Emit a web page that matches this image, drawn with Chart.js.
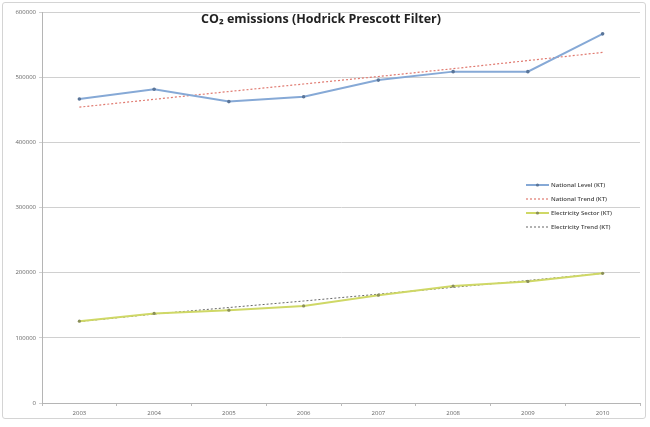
<!DOCTYPE html>
<html>
<head>
<meta charset="utf-8">
<script src="https://cdn.jsdelivr.net/npm/chart.js@4/dist/chart.umd.min.js"></script>
<style>
  html, body { margin: 0; padding: 0; background: #fff; }
  #wrap { position: relative; width: 650px; height: 427px; }
  #frame { position: absolute; left: 2px; top: 2px; width: 642px; height: 415px;
           border: 1px solid #d4d4d4; border-radius: 3px; pointer-events: none; }
</style>
</head>
<body>
<div id="wrap">
  <canvas id="co2Chart" width="650" height="427"></canvas>
  <div id="frame"></div>
</div>
<script>
// years on the x axis
const years = ["2003", "2004", "2005", "2006", "2007", "2008", "2009", "2010"];

// series (KT)
const nationalLevel = [466500, 481500, 462500, 470000, 495500, 508500, 508500, 566500];
const nationalTrend = [454000, 466000, 478000, 489500, 501000, 513000, 525500, 538000];
const electricitySector = [125500, 137500, 142500, 149000, 165500, 179500, 186500, 199000];
const electricityTrend = [125000, 136500, 146500, 156500, 167000, 177500, 188000, 199000];

const titleText = "CO\u2082 emissions (Hodrick Prescott Filter)";

// title drawn inside the plot area, like the original
const titlePlugin = {
  id: "insideTitle",
  afterDraw(chart) {
    const c = chart.ctx;
    c.save();
    c.font = "bold 12.5px 'Open Sans', sans-serif";
    c.fillStyle = "#222";
    c.textAlign = "center";
    c.textBaseline = "middle";
    c.fillText(titleText, 321, 19);
    c.restore();
  }
};

// small legend box inside the plot, right side
const legendPlugin = {
  id: "insideLegend",
  afterDraw(chart) {
    const c = chart.ctx;
    const x0 = 526, y0 = 185, rowH = 14;
    c.save();
    c.font = "600 6px 'Open Sans', sans-serif";
    c.textBaseline = "middle";
    chart.data.datasets.forEach((ds, i) => {
      const y = y0 + i * rowH;
      c.strokeStyle = ds.borderColor;
      c.lineWidth = ds.borderWidth;
      c.setLineDash(ds.borderDash || []);
      c.beginPath();
      c.moveTo(x0, y);
      c.lineTo(x0 + 23, y);
      c.stroke();
      c.setLineDash([]);
      if (ds.pointRadius > 0) {
        c.fillStyle = ds.pointBackgroundColor;
        c.beginPath();
        c.arc(x0 + 11.5, y, 1.6, 0, Math.PI * 2);
        c.fill();
      }
      c.fillStyle = "#444";
      c.fillText(ds.label, x0 + 25, y);
    });
    c.restore();
  }
};

const ctx = document.getElementById("co2Chart");

new Chart(ctx, {
  type: "line",
  data: {
    labels: years,
    datasets: [
      {
        label: "National Level (KT)",
        data: nationalLevel,
        borderColor: "#86a9d6",
        borderWidth: 2,
        pointRadius: 1.8,
        pointBackgroundColor: "#5a7599",
        pointBorderWidth: 0,
        tension: 0
      },
      {
        label: "National Trend (KT)",
        data: nationalTrend,
        borderColor: "#e07a70",
        borderWidth: 1.2,
        borderDash: [2, 2],
        pointRadius: 0,
        tension: 0
      },
      {
        label: "Electricity Sector (KT)",
        data: electricitySector,
        borderColor: "#cfd866",
        borderWidth: 2,
        pointRadius: 1.6,
        pointBackgroundColor: "#8a8f58",
        pointBorderWidth: 0,
        tension: 0
      },
      {
        label: "Electricity Trend (KT)",
        data: electricityTrend,
        borderColor: "#666",
        borderWidth: 1,
        borderDash: [2, 2],
        pointRadius: 0,
        tension: 0
      }
    ]
  },
  options: {
    responsive: false,
    animation: false,
    layout: { padding: { left: 0, top: 12, right: 10, bottom: 0 } },
    plugins: {
      legend: { display: false },
      title: { display: false },
      tooltip: { enabled: false }
    },
    scales: {
      x: {
        offset: true,
        grid: {
          display: true,
          drawOnChartArea: false,
          drawTicks: true,
          tickLength: 3,
          offset: true,
          color: "#bbb"
        },
        border: { color: "#b5b5b5" },
        ticks: {
          color: "#666",
          font: { size: 6, family: "'Open Sans', sans-serif" },
          padding: 4,
          maxRotation: 0
        },
        afterFit(s) { s.height = 24; }
      },
      y: {
        min: 0,
        max: 600000,
        grid: { color: "#d0d0d0", drawTicks: true, tickLength: 3 },
        border: { color: "#b5b5b5" },
        ticks: {
          stepSize: 100000,
          color: "#666",
          font: { size: 6, family: "'Open Sans', sans-serif" },
          padding: 3,
          callback: v => String(v)
        },
        afterFit(s) { s.width = 42; }
      }
    }
  },
  plugins: [titlePlugin, legendPlugin]
});
</script>
</body>
</html>
